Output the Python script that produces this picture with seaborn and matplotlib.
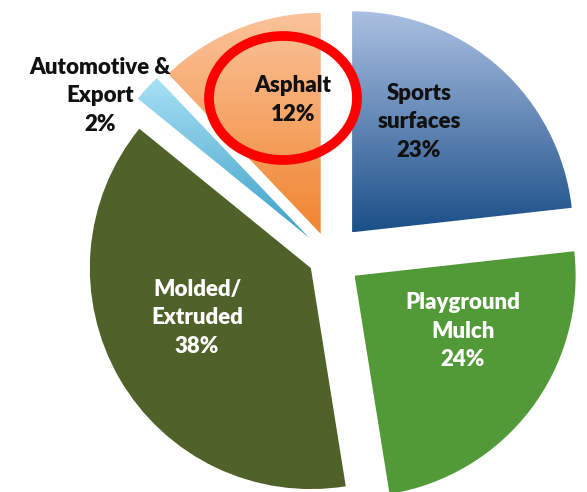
import numpy as np
import matplotlib
matplotlib.use("Agg")
import matplotlib.pyplot as plt
import matplotlib.colors as mcolors
from matplotlib.patches import Ellipse
import seaborn as sns

# =========================
# DATA
# =========================

categories = ["Sports surfaces", "Playground Mulch", "Molded/Extruded", "Automotive & Export", "Asphalt"]
shares = [23, 24, 38, 2, 12]
label_text = ["Sports\nsurfaces\n23%", "Playground\nMulch\n24%", "Molded/\nExtruded\n38%",
              "Automotive &\nExport\n2%", "Asphalt\n12%"]

# style per slice: top colour, bottom colour of the vertical gradient
top_colors = ["#abc0e2", "#519a37", "#4f6229", "#a9e0f6", "#fbc39a"]
bottom_colors = ["#1b4f88", "#519a37", "#4f6229", "#3aa0c6", "#f08530"]
explode = [0.15, 0.14, 0.1, 0.127, 0.113]
text_colors = ["#111111", "white", "white", "#111111", "#111111"]

# =========================
# LAYOUT (pixel helpers)
# =========================

W, H = 587, 492
CX, CY, R = 330, 257, 221


def to_xy(px, py):
    return (px - CX) / R, (CY - py) / R


sns.set_theme(style="white")
plt.rcParams["font.family"] = ["Lato", "DejaVu Sans"]

fig = plt.figure(figsize=(W / 100, H / 100), dpi=100)
ax = fig.add_axes([0, 0, 1, 1])

wedges, _ = ax.pie(
    shares,
    explode=explode,
    startangle=90,
    counterclock=False,
    radius=1,
    normalize=True,
)

# gradient fills clipped to each wedge
for w, c_top, c_bot in zip(wedges, top_colors, bottom_colors):
    verts = w.get_patch_transform().transform(w.get_path().vertices)
    x0, x1 = verts[:, 0].min(), verts[:, 0].max()
    y0, y1 = verts[:, 1].min(), verts[:, 1].max()
    t = np.linspace(0, 1, 256)[:, None]
    a = np.array(mcolors.to_rgb(c_top))
    b = np.array(mcolors.to_rgb(c_bot))
    grad = (a * (1 - t) + b * t)[:, None, :]
    im = ax.imshow(grad, extent=(x0, x1, y0, y1), origin="upper",
                   aspect="auto", zorder=1, interpolation="bilinear")
    im.set_clip_path(w)
    w.set_facecolor("none")
    w.set_edgecolor("none")

# labels
label_pos = [(419, 122), (463, 331), (197, 318), (100, 96), (293, 100)]
for txt, (px, py), col in zip(label_text, label_pos, text_colors):
    x, y = to_xy(px, py)
    ax.text(x, y, txt, ha="center", va="center", fontsize=16,
            fontweight="heavy", color=col, linespacing=1.42, zorder=5)

# red highlight ring round Asphalt
ex, ey = to_xy(283, 98)
ax.add_patch(Ellipse((ex, ey), 148 / R, 124 / R, fill=False,
                     edgecolor="#ff0000", linewidth=7, zorder=6))

xa, ya = to_xy(0, H)
xb, yb = to_xy(W, 0)
ax.set_xlim(xa, xb)
ax.set_ylim(ya, yb)
ax.set_aspect("equal")
ax.axis("off")

plt.savefig("out.png", dpi=100)
